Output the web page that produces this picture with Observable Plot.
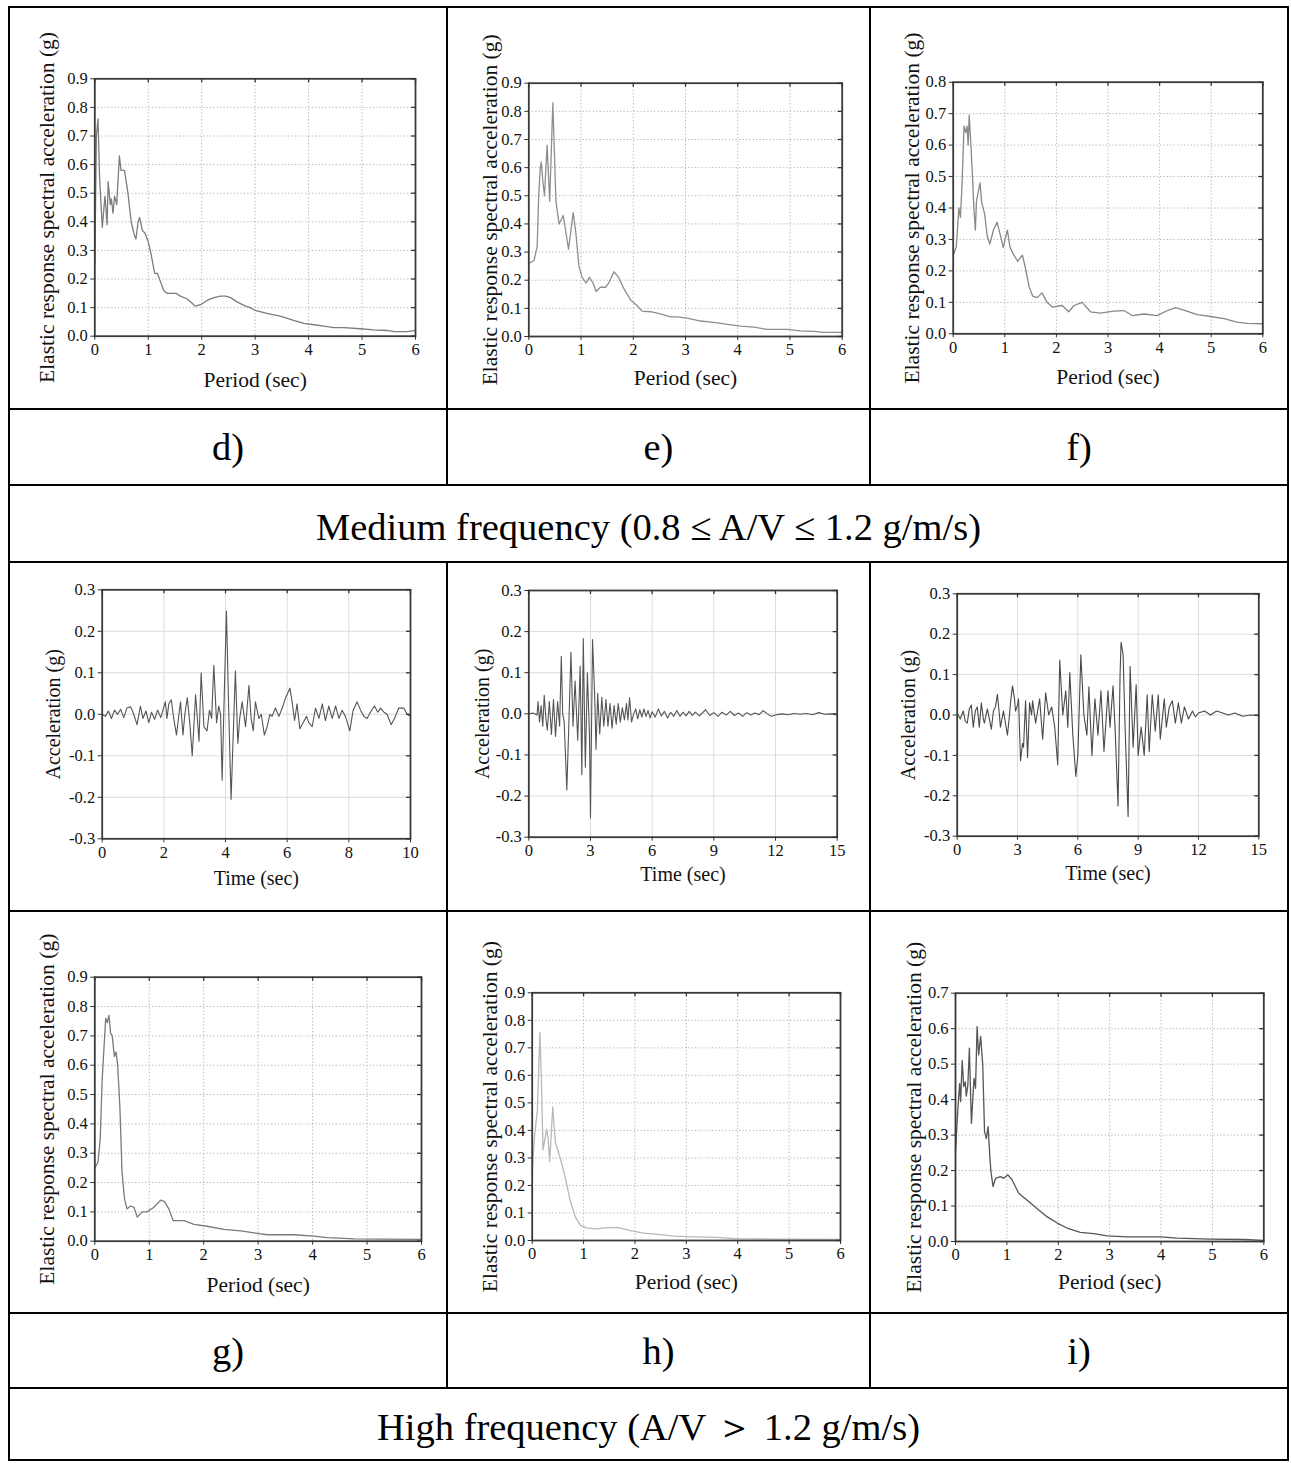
<!DOCTYPE html>
<html><head><meta charset="utf-8">
<script src="https://cdn.jsdelivr.net/npm/d3@7"></script>
<script src="https://cdn.jsdelivr.net/npm/@observablehq/plot@0.6"></script>
<style>
body{margin:0;background:#fff;}
#page{position:relative;width:1291px;height:1463px;background:#fff;font-family:"Liberation Serif","Times New Roman",serif;overflow:hidden;}
.hl{position:absolute;height:2px;background:#000;}
.vl{position:absolute;width:2px;background:#000;}
.lab{position:absolute;font-size:38.5px;color:#000;display:flex;align-items:center;justify-content:center;white-space:nowrap;}
.cap{padding-top:6px;box-sizing:border-box;}
.cell{position:absolute;}
.cell svg{max-width:none;}
</style></head><body><div id="page"></div><script>
// ---------------- data ----------------
const periodTicks = [0, 1, 2, 3, 4, 5, 6];
const saTicks09 = [0, 0.1, 0.2, 0.3, 0.4, 0.5, 0.6, 0.7, 0.8, 0.9];
const saTicks08 = [0, 0.1, 0.2, 0.3, 0.4, 0.5, 0.6, 0.7, 0.8];
const saTicks07 = [0, 0.1, 0.2, 0.3, 0.4, 0.5, 0.6, 0.7];
const accTicks = [-0.3, -0.2, -0.1, 0, 0.1, 0.2, 0.3];
const time10Ticks = [0, 2, 4, 6, 8, 10];
const time15Ticks = [0, 3, 6, 9, 12, 15];
const panelLabels = ["d)", "e)", "f)", "g)", "h)", "i)"];
const captions = ["Medium frequency (0.8 \u2264 A/V \u2264 1.2 g/m/s)", "High frequency (A/V \uFF1E 1.2 g/m/s)"];
const spectrumXTitle = "Period (sec)";
const spectrumYTitle = "Elastic response spectral acceleration (g)";
const timeXTitle = "Time (sec)";
const timeYTitle = "Acceleration (g)";

// [period (s), Sa (g)]
const specD = [[0,0.25],[0.03,0.70],[0.06,0.76],[0.09,0.55],[0.14,0.38],[0.19,0.49],[0.23,0.39],[0.25,0.54],[0.29,0.46],[0.31,0.48],[0.34,0.43],[0.37,0.49],[0.41,0.46],[0.46,0.63],[0.49,0.58],[0.555,0.58],[0.62,0.50],[0.68,0.40],[0.73,0.36],[0.77,0.34],[0.81,0.40],[0.84,0.415],[0.89,0.37],[0.94,0.36],[1.0,0.33],[1.05,0.29],[1.12,0.22],[1.17,0.22],[1.23,0.19],[1.29,0.16],[1.35,0.15],[1.45,0.15],[1.52,0.15],[1.6,0.14],[1.73,0.13],[1.82,0.115],[1.88,0.105],[1.98,0.11],[2.1,0.125],[2.23,0.135],[2.35,0.14],[2.45,0.14],[2.54,0.135],[2.66,0.12],[2.82,0.105],[2.91,0.1],[3.0,0.09],[3.22,0.08],[3.47,0.07],[3.72,0.055],[3.91,0.045],[4.1,0.04],[4.29,0.035],[4.47,0.03],[4.66,0.03],[4.97,0.026],[5.22,0.022],[5.47,0.02],[5.6,0.016],[5.85,0.016],[6.0,0.02]];
const specE = [[0,0.26],[0.1,0.27],[0.16,0.32],[0.19,0.5],[0.22,0.6],[0.24,0.62],[0.27,0.55],[0.30,0.50],[0.35,0.68],[0.40,0.48],[0.46,0.83],[0.52,0.48],[0.58,0.40],[0.66,0.43],[0.76,0.31],[0.85,0.44],[0.9,0.37],[0.96,0.25],[1.02,0.21],[1.1,0.19],[1.16,0.21],[1.23,0.19],[1.29,0.16],[1.37,0.175],[1.47,0.175],[1.53,0.19],[1.63,0.23],[1.72,0.21],[1.82,0.17],[1.95,0.13],[2.07,0.11],[2.17,0.09],[2.33,0.088],[2.52,0.08],[2.71,0.07],[2.84,0.07],[3.03,0.065],[3.29,0.055],[3.54,0.05],[3.8,0.043],[4.05,0.037],[4.31,0.033],[4.56,0.025],[4.95,0.025],[5.2,0.02],[5.46,0.018],[5.65,0.015],[6.0,0.015]];
const specF = [[0,0.25],[0.06,0.275],[0.11,0.40],[0.14,0.37],[0.17,0.47],[0.21,0.66],[0.245,0.64],[0.27,0.66],[0.29,0.60],[0.31,0.695],[0.34,0.61],[0.38,0.48],[0.40,0.40],[0.43,0.33],[0.45,0.42],[0.52,0.48],[0.55,0.42],[0.61,0.38],[0.66,0.31],[0.71,0.285],[0.78,0.33],[0.85,0.355],[0.92,0.31],[0.97,0.275],[1.05,0.33],[1.1,0.275],[1.16,0.255],[1.25,0.23],[1.34,0.25],[1.40,0.21],[1.47,0.15],[1.54,0.12],[1.63,0.115],[1.72,0.13],[1.82,0.10],[1.92,0.085],[2.11,0.09],[2.24,0.07],[2.34,0.09],[2.5,0.10],[2.66,0.07],[2.85,0.066],[3.11,0.072],[3.31,0.074],[3.47,0.058],[3.7,0.063],[3.95,0.058],[4.15,0.074],[4.31,0.083],[4.5,0.074],[4.73,0.061],[4.99,0.055],[5.25,0.048],[5.5,0.037],[5.7,0.033],[6.0,0.032]];
const specG = [[0,0.25],[0.06,0.27],[0.1,0.35],[0.135,0.55],[0.2,0.76],[0.23,0.745],[0.26,0.77],[0.29,0.71],[0.32,0.70],[0.36,0.63],[0.39,0.645],[0.42,0.60],[0.46,0.46],[0.5,0.235],[0.545,0.145],[0.59,0.11],[0.655,0.12],[0.72,0.115],[0.78,0.082],[0.87,0.10],[0.96,0.10],[1.08,0.115],[1.21,0.14],[1.28,0.135],[1.36,0.11],[1.44,0.07],[1.64,0.07],[1.82,0.057],[2.06,0.051],[2.37,0.04],[2.68,0.035],[2.98,0.027],[3.17,0.022],[3.66,0.022],[4.02,0.017],[4.27,0.0125],[4.76,0.008],[5.25,0.007],[6.0,0.006]];
const specH = [[0,0.25],[0.05,0.39],[0.1,0.47],[0.15,0.757],[0.18,0.575],[0.21,0.33],[0.25,0.37],[0.28,0.405],[0.31,0.37],[0.34,0.287],[0.4,0.485],[0.45,0.357],[0.55,0.297],[0.65,0.224],[0.73,0.151],[0.84,0.085],[0.94,0.055],[1.07,0.045],[1.26,0.042],[1.39,0.046],[1.65,0.048],[1.91,0.036],[2.17,0.027],[2.5,0.021],[2.76,0.016],[3.15,0.013],[3.6,0.011],[3.92,0.007],[4.38,0.006],[4.7,0.005],[6.0,0.004]];
const specI = [[0,0.255],[0.045,0.37],[0.08,0.445],[0.1,0.395],[0.13,0.51],[0.16,0.437],[0.19,0.45],[0.21,0.41],[0.24,0.44],[0.27,0.545],[0.31,0.333],[0.36,0.46],[0.39,0.432],[0.42,0.606],[0.45,0.526],[0.49,0.578],[0.53,0.498],[0.565,0.31],[0.6,0.29],[0.635,0.324],[0.67,0.235],[0.69,0.197],[0.73,0.155],[0.78,0.178],[0.875,0.183],[0.94,0.178],[1.02,0.188],[1.1,0.174],[1.23,0.136],[1.39,0.117],[1.59,0.092],[1.78,0.07],[1.98,0.052],[2.17,0.038],[2.43,0.026],[2.69,0.022],[2.95,0.016],[3.34,0.013],[3.99,0.013],[4.31,0.0094],[4.96,0.0066],[5.61,0.0056],[6.0,0.003]];

// [time (s), acceleration (g)]
const accA = [[0,0],[0.1,-0.005],[0.2,0.008],[0.3,-0.01],[0.4,0.01],[0.5,0],[0.6,0.012],[0.7,-0.008],[0.8,0.015],[0.92,0.018],[1.0,0.005],[1.13,-0.025],[1.24,0.02],[1.32,-0.01],[1.42,0.008],[1.51,-0.02],[1.6,0.005],[1.7,-0.012],[1.8,0.01],[1.9,-0.008],[2.0,0.018],[2.05,0.03],[2.1,-0.01],[2.16,0.025],[2.24,0.035],[2.32,-0.01],[2.41,-0.05],[2.49,0],[2.54,0.03],[2.62,-0.05],[2.68,0],[2.76,0.04],[2.84,-0.02],[2.92,-0.1],[3.03,0.047],[3.14,-0.065],[3.21,0.1],[3.3,-0.03],[3.4,-0.04],[3.48,0.01],[3.55,-0.01],[3.62,0.118],[3.71,-0.02],[3.78,0.02],[3.84,0],[3.89,-0.159],[3.96,0.05],[4.03,0.249],[4.1,0.02],[4.18,-0.205],[4.25,-0.05],[4.32,0.104],[4.4,-0.07],[4.46,-0.01],[4.54,0.03],[4.65,-0.03],[4.76,0.07],[4.83,-0.01],[4.9,-0.04],[4.97,0.03],[5.08,-0.01],[5.16,0],[5.26,-0.05],[5.35,-0.03],[5.44,0],[5.51,-0.005],[5.62,0.015],[5.73,-0.005],[5.84,0.015],[5.95,0.04],[6.09,0.063],[6.16,0.03],[6.24,-0.015],[6.32,0.025],[6.41,-0.035],[6.52,-0.02],[6.63,-0.005],[6.7,-0.02],[6.81,-0.03],[6.92,0.015],[7.03,-0.01],[7.14,0.025],[7.24,-0.015],[7.35,0.02],[7.46,-0.01],[7.57,0.02],[7.68,-0.01],[7.78,0.01],[7.89,-0.005],[8.03,-0.04],[8.14,0.01],[8.27,0.03],[8.38,0.01],[8.49,-0.005],[8.59,-0.01],[8.7,0.005],[8.83,0.02],[8.94,0.005],[9.03,0.015],[9.14,0.005],[9.24,0],[9.37,-0.025],[9.48,-0.01],[9.62,0.015],[9.78,0.015],[9.89,0],[10.0,-0.005]];
const accB = [[0,0],[0.2,0.002],[0.4,-0.003],[0.45,0.03],[0.52,-0.02],[0.6,0.02],[0.68,-0.03],[0.75,0.045],[0.83,-0.01],[0.9,-0.04],[1.0,0.03],[1.1,-0.05],[1.2,0.035],[1.3,-0.055],[1.4,0.03],[1.5,-0.03],[1.58,0.14],[1.65,0.0],[1.72,-0.02],[1.85,-0.185],[1.95,-0.02],[2.05,0.15],[2.15,-0.03],[2.25,0.08],[2.38,-0.064],[2.5,0.116],[2.58,-0.148],[2.65,0.183],[2.75,-0.13],[2.85,0.10],[2.95,-0.05],[3.0,-0.253],[3.1,0.181],[3.2,0.05],[3.27,-0.086],[3.35,0.05],[3.45,-0.049],[3.55,0.04],[3.65,-0.03],[3.75,0.035],[3.85,-0.03],[3.95,0.025],[4.05,-0.035],[4.15,0.02],[4.25,-0.025],[4.35,0.025],[4.45,-0.02],[4.55,0.015],[4.65,-0.015],[4.75,0.025],[4.82,-0.015],[4.9,0.039],[5.0,-0.02],[5.1,0.0],[5.2,0.012],[5.3,-0.012],[5.4,0.01],[5.5,-0.008],[5.6,0.012],[5.7,-0.006],[5.8,0.008],[5.9,-0.01],[6.0,0.005],[6.15,-0.008],[6.3,0.012],[6.45,-0.005],[6.6,0.006],[6.75,-0.01],[6.9,0.004],[7.05,-0.006],[7.2,0.008],[7.35,-0.006],[7.5,0.004],[7.65,-0.005],[7.8,0.006],[7.95,-0.004],[8.1,0.004],[8.3,-0.005],[8.6,0.01],[8.8,-0.004],[9.0,0.003],[9.2,-0.006],[9.4,0.004],[9.6,-0.003],[9.8,0.006],[10.0,-0.004],[10.2,0.002],[10.4,-0.006],[10.6,0.003],[10.8,-0.003],[11.0,0.002],[11.2,-0.002],[11.4,0.008],[11.6,0.0],[11.8,-0.006],[12.0,-0.003],[12.3,0.0],[12.6,-0.002],[12.9,0.001],[13.2,-0.001],[13.5,0.001],[13.8,-0.002],[14.1,0.003],[14.4,-0.001],[14.7,0.0],[15,-0.003]];
const accC = [[0,0.005],[0.15,-0.01],[0.3,0.01],[0.4,-0.015],[0.5,-0.02],[0.6,0.015],[0.7,0.025],[0.8,-0.03],[0.9,0.01],[1.0,0.02],[1.1,-0.03],[1.2,0.03],[1.3,-0.01],[1.35,-0.02],[1.5,0.015],[1.6,-0.01],[1.7,-0.035],[1.8,0.01],[1.9,0.02],[2.0,0.051],[2.1,0.0],[2.15,-0.03],[2.3,0.01],[2.4,-0.02],[2.5,-0.05],[2.6,0.0],[2.65,0.03],[2.75,0.072],[2.85,0.04],[2.9,0.01],[3.0,0.025],[3.05,0.04],[3.15,-0.113],[3.25,-0.07],[3.3,-0.08],[3.4,0.035],[3.5,-0.105],[3.6,0.03],[3.7,0.0],[3.75,0.035],[3.9,-0.02],[4.0,0.01],[4.1,0.04],[4.25,-0.06],[4.4,0.055],[4.55,0.0],[4.7,0.02],[4.85,-0.03],[5.0,-0.123],[5.1,0.136],[5.25,0.0],[5.4,0.06],[5.5,-0.03],[5.6,0.105],[5.75,-0.05],[5.9,-0.152],[6.0,-0.1],[6.15,0.149],[6.3,0.0],[6.45,-0.05],[6.55,0.07],[6.7,-0.1],[6.85,0.04],[7.0,-0.05],[7.15,0.06],[7.3,-0.09],[7.5,0.06],[7.6,-0.03],[7.75,0.072],[7.85,-0.03],[8.0,-0.225],[8.1,0.10],[8.15,0.18],[8.25,0.15],[8.35,-0.03],[8.5,-0.251],[8.6,0.12],[8.75,-0.08],[8.9,0.075],[9.0,-0.1],[9.15,-0.03],[9.3,-0.1],[9.45,0.05],[9.55,-0.09],[9.7,0.05],[9.85,-0.04],[10.0,0.05],[10.1,-0.06],[10.3,0.04],[10.4,-0.03],[10.55,0.02],[10.7,0.035],[10.85,-0.02],[11.0,0.03],[11.15,-0.02],[11.3,0.02],[11.5,-0.01],[11.7,0.01],[11.85,-0.005],[12.0,0.005],[12.3,0.01],[12.6,0.0],[12.9,0.01],[13.2,0.005],[13.5,0.0],[13.8,0.005],[14.2,-0.003],[14.6,0.0],[15,-0.002]];

// ---------------- layout ----------------
const page = document.getElementById("page");
const colX = [9, 447, 870, 1288];
const rowY = [7, 409, 485, 562, 911, 1313, 1388, 1460];

function div(cls, l, t, w, h, txt) {
  const d = document.createElement("div");
  d.className = cls;
  Object.assign(d.style, {left: l + "px", top: t + "px", width: w + "px", height: h + "px"});
  if (txt != null) d.textContent = txt;
  page.appendChild(d);
  return d;
}
rowY.forEach(y => div("hl", colX[0] - 1, y - 1, colX[3] - colX[0] + 2, null));
div("vl", colX[0] - 1, rowY[0] - 1, null, rowY[7] - rowY[0] + 2);
div("vl", colX[3] - 1, rowY[0] - 1, null, rowY[7] - rowY[0] + 2);
[[rowY[0], rowY[2]], [rowY[3], rowY[6]]].forEach(([a, b]) => {
  div("vl", colX[1] - 1, a - 1, null, b - a + 2);
  div("vl", colX[2] - 1, a - 1, null, b - a + 2);
});
[[rowY[1], rowY[2], 0], [rowY[5], rowY[6], 3]].forEach(([a, b, k]) => {
  for (let c = 0; c < 3; c++) div("lab", colX[c] + 1, a + 1, colX[c + 1] - colX[c] - 2, b - a - 2, panelLabels[k + c]);
});
div("lab cap", colX[0] + 1, rowY[2] + 1, colX[3] - colX[0] - 2, rowY[3] - rowY[2] - 2, captions[0]);
div("lab cap", colX[0] + 1, rowY[6] + 1, colX[3] - colX[0] - 2, rowY[7] - rowY[6] - 2, captions[1]);

const fmt1 = d => (d < 0 ? "-" : "") + Math.abs(d).toFixed(1);
const fmt0 = d => String(d);

function panel(o) {
  const [cl, ct, cr, cb] = o.cell;
  const [fl, ft, fr, fb] = o.frame;
  const fw = fr - fl, fh = fb - ft;
  const gridOpts = o.dotted
    ? {stroke: "#a8a8a8", strokeOpacity: 1, strokeWidth: 0.9, strokeDasharray: "1.2,2.2"}
    : {stroke: "#dcdcdc", strokeOpacity: 1, strokeWidth: 1};
  const svg = Plot.plot({
    width: cr - cl, height: cb - ct,
    marginLeft: fl - cl, marginTop: ft - ct, marginRight: cr - fr, marginBottom: cb - fb,
    x: {domain: o.xDomain},
    y: {domain: o.yDomain},
    style: {fontFamily: '"Liberation Serif","Times New Roman",serif', fontSize: "16.5px", color: "#111", background: "transparent", overflow: "visible"},
    marks: [
      Plot.gridX(o.xTicks, gridOpts),
      Plot.gridY(o.yTicks, gridOpts),
      Plot.line(o.data, {x: d => d[0], y: d => d[1], stroke: o.stroke, strokeWidth: o.sw || 1.3}),
      Plot.frame({stroke: "#3a3a3a", strokeWidth: 1.8}),
      Plot.axisX(o.xTicks, {tickSize: 4, tickPadding: 3, tickFormat: fmt0, label: null, stroke: "#333"}),
      Plot.axisY(o.yTicks, {tickSize: 4, tickPadding: 3, tickFormat: fmt1, label: null, stroke: "#333"}),
      Plot.tickX(o.xTicks, {x: d => d, insetBottom: fh - 4, stroke: "#333", strokeWidth: 1.3}),
      Plot.tickY(o.yTicks, {y: d => d, insetLeft: fw - 4, stroke: "#333", strokeWidth: 1.3}),
      Plot.text([o.xTitle], {text: d => d, frameAnchor: "bottom", textAnchor: "middle", lineAnchor: "middle", dy: o.xTitleY - fb, fontSize: o.titleSize, fill: "#111"}),
      Plot.text([o.yTitle], {text: d => d, frameAnchor: "left", textAnchor: "middle", lineAnchor: "middle", dx: o.yTitleX - fl, rotate: -90, fontSize: o.titleSize, fill: "#111"})
    ]
  });
  const holder = div("cell", cl, ct, cr - cl, cb - ct);
  holder.appendChild(svg);
}

const cellCols = [[colX[0] + 1, colX[1] - 1], [colX[1] + 1, colX[2] - 1], [colX[2] + 1, colX[3] - 1]];
const cellRows = {A: [rowY[0] + 1, rowY[1] - 1], D: [rowY[3] + 1, rowY[4] - 1], E: [rowY[4] + 1, rowY[5] - 1]};
const cellOf = (c, r) => [cellCols[c][0], cellRows[r][0], cellCols[c][1], cellRows[r][1]];

const spec = (c, r, frame, yTitleX, xTitleY, data, yTicks, stroke) => panel({
  cell: cellOf(c, r), frame, xDomain: [0, 6], yDomain: [0, yTicks[yTicks.length - 1]],
  xTicks: periodTicks, yTicks, xTitle: spectrumXTitle, yTitle: spectrumYTitle,
  xTitleY, yTitleX, data, stroke, dotted: true, titleSize: 21.5
});
const hist = (c, frame, yTitleX, xTitleY, data, xTicks, stroke) => panel({
  cell: cellOf(c, "D"), frame, xDomain: [0, xTicks[xTicks.length - 1]], yDomain: [-0.3, 0.3],
  xTicks, yTicks: accTicks, xTitle: timeXTitle, yTitle: timeYTitle,
  xTitleY, yTitleX, data, stroke, dotted: false, titleSize: 20, sw: 1.1
});

spec(0, "A", [94.3, 78.3, 415, 335.7], 46.7, 380, specD, saTicks09, "#7c7c7c");
spec(1, "A", [528.3, 82.7, 841.7, 336], 490, 378, specE, saTicks09, "#8e8e8e");
spec(2, "A", [952.7, 81.7, 1262.3, 333.3], 911.7, 376.7, specF, saTicks08, "#888");
hist(0, [101.7, 589.3, 410, 838.3], 53.3, 878, accA, time10Ticks, "#555");
hist(1, [528.3, 590, 836.7, 836.7], 481.7, 874, accB, time15Ticks, "#555");
hist(2, [956.7, 593.3, 1258.3, 835.7], 908.3, 873.3, accC, time15Ticks, "#4a4a4a");
spec(0, "E", [94.3, 976.7, 421, 1240.7], 46.7, 1285, specG, saTicks09, "#7a7a7a");
spec(1, "E", [531.7, 992.3, 840, 1240], 490, 1281.7, specH, saTicks09, "#b8b8b8");
spec(2, "E", [955, 992.7, 1263.3, 1241], 913.3, 1281.7, specI, saTicks07, "#555");
</script></body></html>
